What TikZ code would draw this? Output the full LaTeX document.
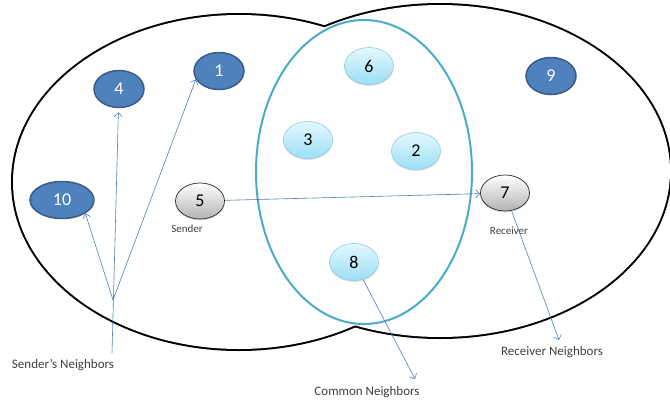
\documentclass[tikz,border=0pt]{standalone}
\usepackage{fontspec}
\setmainfont{Carlito}
\usetikzlibrary{arrows.meta, positioning, shadows, shapes.geometric}
\definecolor{nodeblue}{HTML}{4F81BD}
\definecolor{nodeblueline}{HTML}{385D8A}
\definecolor{cyantop}{HTML}{E4F8FE}
\definecolor{cyanbottom}{HTML}{9CDFF5}
\definecolor{cyanline}{HTML}{8CCDE2}
\definecolor{areateal}{HTML}{4BACC6}
\definecolor{labelgray}{HTML}{404040}

\begin{document}
\begin{tikzpicture}[x=1pt, y=-1pt,
    nbr/.style={ellipse, fill=nodeblue, draw=nodeblueline, line width=1.5pt,
                minimum width=50pt, minimum height=37pt, inner sep=0pt,
                text=white, font=\fontsize{18}{18}\selectfont},
    common/.style={ellipse, top color=cyantop, bottom color=cyanbottom,
                   draw=cyanline, line width=0.6pt, minimum width=49pt,
                   minimum height=37pt, inner sep=0pt,
                   font=\fontsize{18}{18}\selectfont,
                   drop shadow={opacity=0.25, shadow xshift=0pt, shadow yshift=-1.5pt}},
    endpt/.style={ellipse, top color=white, bottom color=black!30,
                  draw=black!85, line width=0.7pt, minimum width=49pt,
                  minimum height=36pt, inner sep=0pt,
                  font=\fontsize{18}{18}\selectfont,
                  drop shadow={opacity=0.25, shadow xshift=0pt, shadow yshift=-1.5pt}},
    link/.style={-{Straight Barb[length=4pt, width=8pt]}, nodeblue, line width=0.6pt},
    lbl/.style={text=labelgray, font=\fontsize{11}{11}\selectfont},
    biglbl/.style={text=labelgray, font=\fontsize{13}{13}\selectfont}
  ]
    \useasboundingbox (0,0) rectangle (670,400);

    % Sender and receiver ranges (only the outline of the union)
    \draw[line width=4pt] (239,182) ellipse [x radius=226, y radius=167];
    \draw[line width=4pt] (440,171) ellipse [x radius=230, y radius=166];
    \fill[white] (239,182) ellipse [x radius=226, y radius=167];
    \fill[white] (440,171) ellipse [x radius=230, y radius=166];
    % Common range
    \draw[areateal, line width=2pt] (364,172) ellipse [x radius=108, y radius=152];

    % Sender's neighbors
    \node[nbr] (n4)  at (119, 89)  {4};
    \node[nbr] (n1)  at (219, 71)  {1};
    \node[nbr, minimum width=64pt] (n10) at (62, 200) {10};
    % Receiver's neighbor
    \node[nbr] (n9)  at (551, 76)  {9};
    % Common neighbors
    \node[common] (n6) at (369, 66)  {6};
    \node[common] (n3) at (308, 140) {3};
    \node[common] (n2) at (416, 151) {2};
    \node[common] (n8) at (354, 262) {8};
    % Sender and receiver
    \node[endpt] (n5) at (200, 201) {5};
    \node[endpt] (n7) at (505, 193) {7};
    \node[lbl] (sendlbl) at (187, 229) {Sender};
    \node[lbl] (recvlbl) at (509, 231) {Receiver};

    % Labels below
    \node[biglbl] (snlbl) at (63, 365)  {Sender’s Neighbors};
    \node[biglbl] (cnlbl) at (367, 392) {Common Neighbors};
    \node[biglbl] (rnlbl) at (552, 352) {Receiver Neighbors};
    \coordinate (sbase) at (112, 353);
    \coordinate (sfan)  at (113, 300);
    \coordinate (ctip)  at (415, 379);
    \coordinate (rtip)  at (559, 340);

    % Links
    \draw[link] (n5) -- (n7);
    \draw[link, shorten >=4pt] (sbase) -- (n4);
    \draw[link] (sfan) -- (n10.-30);
    \draw[link] (sfan) -- (n1.200);
    \draw[link] (n8) -- (ctip);
    \draw[link] (n7) -- (rtip);
  \end{tikzpicture}
\end{document}
